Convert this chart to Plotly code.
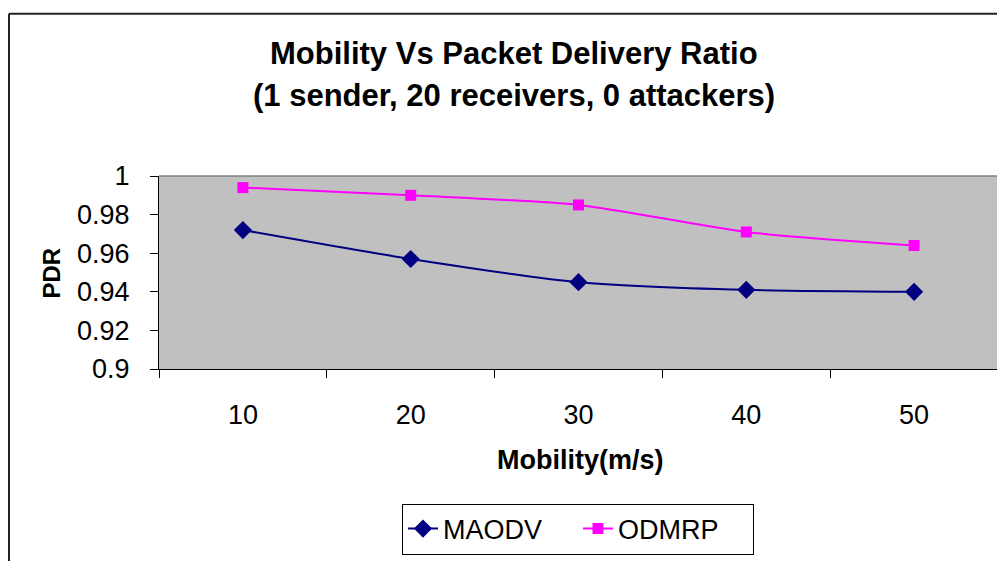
import plotly.graph_objects as go

categories = ["10", "20", "30", "40", "50"]
maodv = [0.972, 0.957, 0.945, 0.941, 0.940]
odmrp = [0.994, 0.990, 0.985, 0.971, 0.964]
ytick_vals = [0.9, 0.92, 0.94, 0.96, 0.98, 1.0]
ytick_text = ["0.9", "0.92", "0.94", "0.96", "0.98", "1"]

# page offset from default body margin
OFF = 8
W, H = 1005 - OFF, 561 - OFF
# plot area in page coordinates: x 159..998, y 176..374
L, T = 159 - OFF, 176 - OFF
R = W - (998 - OFF)
B = H - (374 - OFF)
PW, PH = W - L - R, H - T - B


def px(x):
    return (x - OFF - L) / PW


def py(y):
    return (H - B - (y - OFF)) / PH


FONT = "Liberation Sans, Arial, sans-serif"

fig = go.Figure()
fig.add_trace(go.Scatter(
    x=categories, y=maodv, name="MAODV", mode="lines+markers",
    line=dict(color="#000080", width=2, shape="spline", smoothing=0.7),
    marker=dict(symbol="diamond", size=14, color="#000080"),
))
fig.add_trace(go.Scatter(
    x=categories, y=odmrp, name="ODMRP", mode="lines+markers",
    line=dict(color="#FF00FF", width=2, shape="spline", smoothing=0.7),
    marker=dict(symbol="square", size=11, color="#FF00FF"),
))

fig.update_layout(
    width=W, height=H,
    margin=dict(l=L, r=R, t=T, b=B, pad=0),
    paper_bgcolor="white",
    plot_bgcolor="#C0C0C0",
    font=dict(family=FONT, size=27, color="black"),
    showlegend=True,
    legend=dict(
        orientation="h", x=px(578), xanchor="center", y=py(512), yanchor="top",
        bordercolor="black", borderwidth=1, bgcolor="white",
        font=dict(size=27, family=FONT), entrywidth=130, entrywidthmode="pixels",
    ),
    xaxis=dict(
        type="category", categoryorder="array", categoryarray=categories,
        range=[-0.5, 4.5], tickson="boundaries", ticks="outside", ticklen=8,
        tickcolor="black", showline=True, linecolor="black", linewidth=1,
        showgrid=False, zeroline=False, tickfont=dict(size=27),
        ticklabelstandoff=22,
    ),
    yaxis=dict(
        range=[0.9, 1.0], tickvals=ytick_vals, ticktext=ytick_text,
        ticks="outside", ticklen=8, tickcolor="black", showline=True,
        linecolor="black", linewidth=1, showgrid=False, zeroline=False,
        tickfont=dict(size=27), ticklabelstandoff=15,
    ),
    shapes=[
        dict(type="line", xref="paper", yref="paper", x0=0, x1=1, y0=1, y1=1,
             line=dict(color="#808080", width=1.5), layer="below"),
        dict(type="line", xref="paper", yref="paper", x0=1, x1=1, y0=0, y1=1,
             line=dict(color="#808080", width=1.5), layer="below"),
        dict(type="line", xref="paper", yref="paper", x0=px(9), x1=px(9),
             y0=py(9.5), y1=py(575), line=dict(color="#222222", width=2)),
        dict(type="line", xref="paper", yref="paper", x0=px(9), x1=px(1010),
             y0=py(9.5), y1=py(9.5), line=dict(color="#222222", width=2)),
    ],
    annotations=[
        dict(text="<b>Mobility Vs Packet Delivery Ratio</b>", xref="paper", yref="paper",
             x=px(514), y=py(50), xanchor="center", yanchor="middle", showarrow=False,
             font=dict(size=31, family=FONT)),
        dict(text="<b>(1 sender, 20 receivers, 0 attackers)</b>", xref="paper", yref="paper",
             x=px(514), y=py(93), xanchor="center", yanchor="middle", showarrow=False,
             font=dict(size=31, family=FONT)),
        dict(text="<b>Mobility(m/s)</b>", xref="paper", yref="paper",
             x=px(580), y=py(467), xanchor="center", yanchor="middle", showarrow=False,
             font=dict(size=27, family=FONT)),
        dict(text="<b>PDR</b>", xref="paper", yref="paper", textangle=-90,
             x=px(51), y=py(275), xanchor="center", yanchor="middle", showarrow=False,
             font=dict(size=24, family=FONT)),
    ],
)

fig.write_html("out.html")
